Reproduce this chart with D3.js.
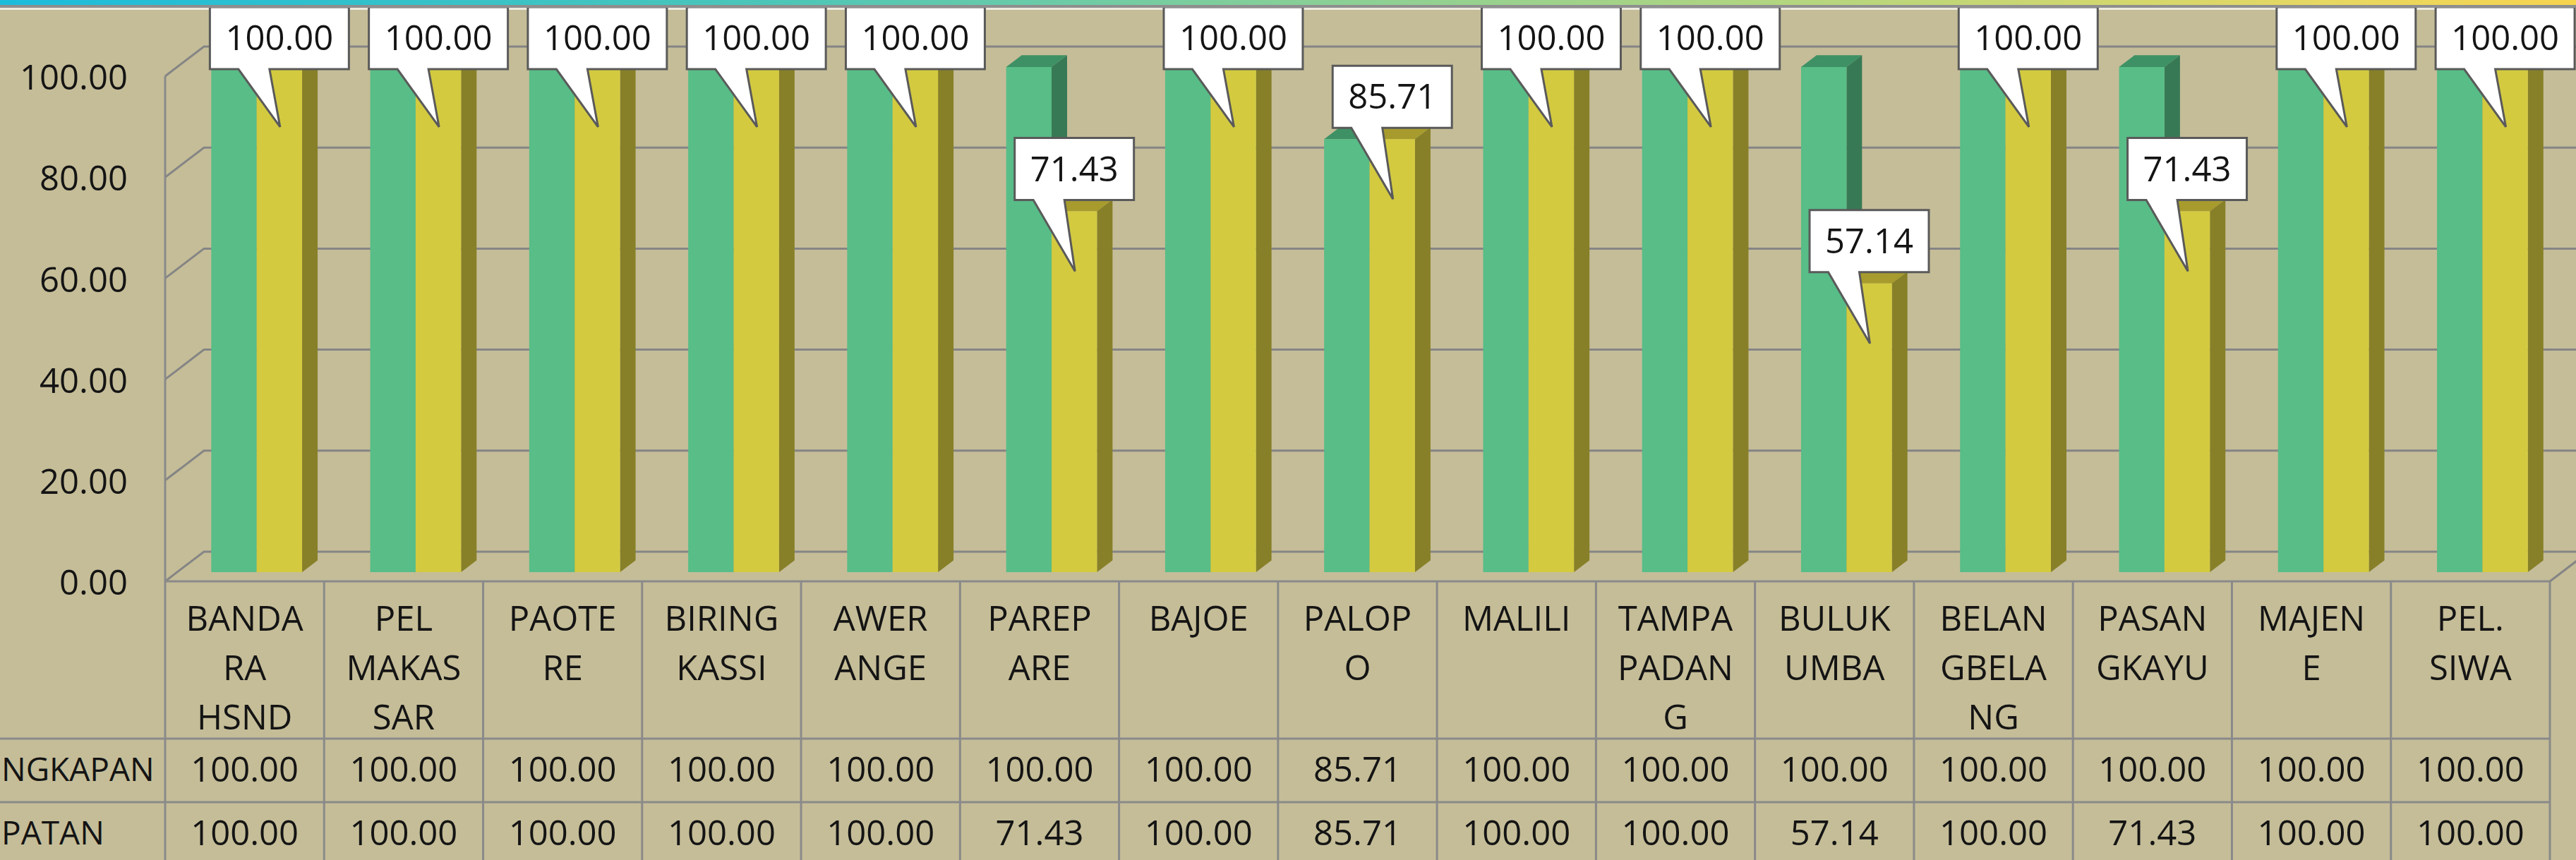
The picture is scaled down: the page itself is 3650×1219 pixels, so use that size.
<!DOCTYPE html>
<html>
<head>
<meta charset="utf-8">
<script src="https://cdn.jsdelivr.net/npm/d3@7"></script>
<style>
  body { margin: 0; background: #C5BD98; }
  svg { display: block; }
  text { font-family: "Open Sans", sans-serif; fill: #141414; }
</style>
</head>
<body>
<svg id="chart" width="3650" height="1219"></svg>
<script>
// data
var categoryLines = [
  ["BANDA", "RA", "HSND"], ["PEL", "MAKAS", "SAR"], ["PAOTE", "RE"], ["BIRING", "KASSI"],
  ["AWER", "ANGE"], ["PAREP", "ARE"], ["BAJOE"], ["PALOP", "O"], ["MALILI"],
  ["TAMPA", "PADAN", "G"], ["BULUK", "UMBA"], ["BELAN", "GBELA", "NG"], ["PASAN", "GKAYU"],
  ["MAJEN", "E"], ["PEL.", "SIWA"]
];
var rowLabels = ["NGKAPAN", "PATAN"];
var kelengkapan = [100, 100, 100, 100, 100, 100, 100, 85.71, 100, 100, 100, 100, 100, 100, 100];
var ketepatan = [100, 100, 100, 100, 100, 71.43, 100, 85.71, 100, 100, 57.14, 100, 71.43, 100, 100];
var yTicks = [0, 20, 40, 60, 80, 100];

var faceColors = [
  { front: "#58BD87", side: "#387955", top: "#3E9165" },
  { front: "#D3CA40", side: "#878028", top: "#A79B2D" }
];

var svg = d3.select("svg#chart"),
    W = +svg.attr("width"),
    H = +svg.attr("height");

var fmt = d3.format(".2f");

// 3d box geometry
var x0 = 234, x1 = 3613, floorY = 824;
var depthX = 55, depthY = -42;
var barD0 = 0.31, barD1 = 0.71;

var x = d3.scaleBand().domain(d3.range(categoryLines.length)).range([x0, x1]);
var xs = d3.scaleBand().domain([0, 1]).range([0, x.bandwidth()]).paddingOuter(0.75);
var y = d3.scaleLinear().domain([0, 100]).range([floorY, floorY - 716]);

function proj(px, v, d) { return [px + d * depthX, y(v) + d * depthY]; }
function poly(pts) { return "M" + pts.map(function(p) { return p.join(","); }).join("L") + "Z"; }

// top strip
var defs = svg.append("defs");
var grad = defs.append("linearGradient").attr("id", "strip");
[["0", "#1CBCDC"], ["0.3", "#4CC6B8"], ["0.5", "#86CF98"], ["0.72", "#B9D67C"], ["0.9", "#E6D862"], ["1", "#F7D44F"]]
  .forEach(function(s) { grad.append("stop").attr("offset", s[0]).attr("stop-color", s[1]); });
defs.append("clipPath").attr("id", "plotclip")
  .append("rect").attr("x", 0).attr("y", 11).attr("width", W).attr("height", H);

svg.append("rect").attr("width", W).attr("height", 7).attr("fill", "url(#strip)");
svg.append("rect").attr("y", 7).attr("width", W).attr("height", 4).attr("fill", "#8E8E8E");
svg.append("rect").attr("y", 11).attr("width", W).attr("height", 3).attr("fill", "#EEEBE0");

var g = svg.append("g").attr("clip-path", "url(#plotclip)");

// gridlines on side wall and back wall
g.append("g").selectAll("path")
  .data(yTicks)
  .enter().append("path")
  .attr("d", function(v) {
    var a = proj(x0, v, 0), b = proj(x0, v, 1);
    return "M" + a + "L" + b + "H" + (W + 10);
  })
  .attr("fill", "none")
  .attr("stroke", "#858585")
  .attr("stroke-width", 3);

// floor right edge
g.append("path")
  .attr("d", "M" + proj(x1, 0, 0) + "L" + proj(x1, 0, 1))
  .attr("stroke", "#858585").attr("stroke-width", 3);

// bars
var series = [kelengkapan, ketepatan];
var cat = g.append("g").selectAll("g")
  .data(categoryLines.map(function(c, i) { return i; }))
  .enter().append("g");

cat.each(function(i) {
  var gc = d3.select(this);
  series.forEach(function(vals, s) {
    var v = vals[i];
    var xl = x(i) + xs(s), xr = xl + xs.bandwidth();
    var c = faceColors[s];
    gc.append("path").attr("fill", c.top)
      .attr("d", poly([proj(xl, v, barD0), proj(xr, v, barD0), proj(xr, v, barD1), proj(xl, v, barD1)]));
    gc.append("path").attr("fill", c.side)
      .attr("d", poly([proj(xr, 0, barD0), proj(xr, 0, barD1), proj(xr, v, barD1), proj(xr, v, barD0)]));
    gc.append("path").attr("fill", c.front)
      .attr("d", poly([proj(xl, 0, barD0), proj(xr, 0, barD0), proj(xr, v, barD0), proj(xl, v, barD0)]));
  });
});

// y axis labels
svg.append("g").selectAll("text")
  .data(yTicks)
  .enter().append("text")
  .attr("x", 181)
  .attr("y", function(v) { return y(v) + 2; })
  .attr("dy", "0.35em")
  .attr("text-anchor", "end")
  .style("font-size", "49px")
  .text(fmt);

// data table
var table = svg.append("g");
var rowY = [1047, 1137, 1227];
table.append("path").attr("d", "M" + x0 + "," + floorY + "H" + x1)
  .attr("stroke", "#8A8A8A").attr("stroke-width", 3);
rowY.forEach(function(ry) {
  table.append("path").attr("d", "M0," + ry + "H" + x1)
    .attr("stroke", "#8A8A8A").attr("stroke-width", 3);
});
table.selectAll("path.vline")
  .data(d3.range(categoryLines.length + 1))
  .enter().append("path")
  .attr("class", "vline")
  .attr("d", function(k) {
    var xx = x0 + k * x.step();
    return "M" + xx + "," + (k === 0 ? y(100) : floorY) + "V" + H;
  })
  .attr("stroke", "#8A8A8A").attr("stroke-width", 3);

// category labels
var lab = table.selectAll("g.cat")
  .data(categoryLines)
  .enter().append("g").attr("class", "cat");
lab.each(function(lines, i) {
  d3.select(this).selectAll("text")
    .data(lines)
    .enter().append("text")
    .attr("x", x(i) + x.bandwidth() / 2)
    .attr("y", function(d, k) { return 877 + k * 70; })
    .attr("dy", "0.35em")
    .attr("text-anchor", "middle")
    .style("font-size", "49px")
    .text(function(d) { return d; });
});

// row values
series.forEach(function(vals, s) {
  var cy = (rowY[s] + rowY[s + 1]) / 2 - 1;
  table.append("g").selectAll("text")
    .data(vals)
    .enter().append("text")
    .attr("x", function(d, i) { return x(i) + x.bandwidth() / 2; })
    .attr("y", cy)
    .attr("dy", "0.35em")
    .attr("text-anchor", "middle")
    .style("font-size", "49px")
    .text(fmt);
});

// row labels, squeezed against the left edge
table.append("g").selectAll("text")
  .data(rowLabels)
  .enter().append("text")
  .attr("x", 2)
  .attr("y", function(d, s) { return (rowY[s] + rowY[s + 1]) / 2 - 1; })
  .attr("dy", "0.35em")
  .style("font-size", "46px")
  .text(function(d) { return d; });

// callout labels for the second series
var callouts = g.append("g").selectAll("g")
  .data(ketepatan)
  .enter().append("g");

callouts.each(function(v, i) {
  var gg = d3.select(this);
  var xl = x(i) + xs(1);
  var top = proj(xl, v, barD0);
  var cx = top[0] + xs.bandwidth() / 2;
  var tipY = top[1] + 85;
  var bottom = Math.max(top[1] - 16, 98), bh = 88, bt = bottom - bh;
  var path = gg.append("path");
  var t = gg.append("text")
    .attr("x", cx)
    .attr("y", bt + bh / 2)
    .attr("dy", "0.35em")
    .attr("text-anchor", "middle")
    .style("font-size", "49px")
    .text(fmt(v));
  var tw = t.node().getComputedTextLength() + 44;
  var l = cx - tw / 2, r = cx + tw / 2;
  path.attr("d", "M" + l + "," + bt + "H" + r + "V" + bottom + "H" + (cx - 14) +
      "L" + (cx + 1) + "," + tipY + "L" + (cx - 58) + "," + bottom + "H" + l + "Z")
    .attr("fill", "#FFFFFF")
    .attr("stroke", "#5A5A5A")
    .attr("stroke-width", 3)
    .attr("stroke-linejoin", "miter");
});
</script>
</body>
</html>
